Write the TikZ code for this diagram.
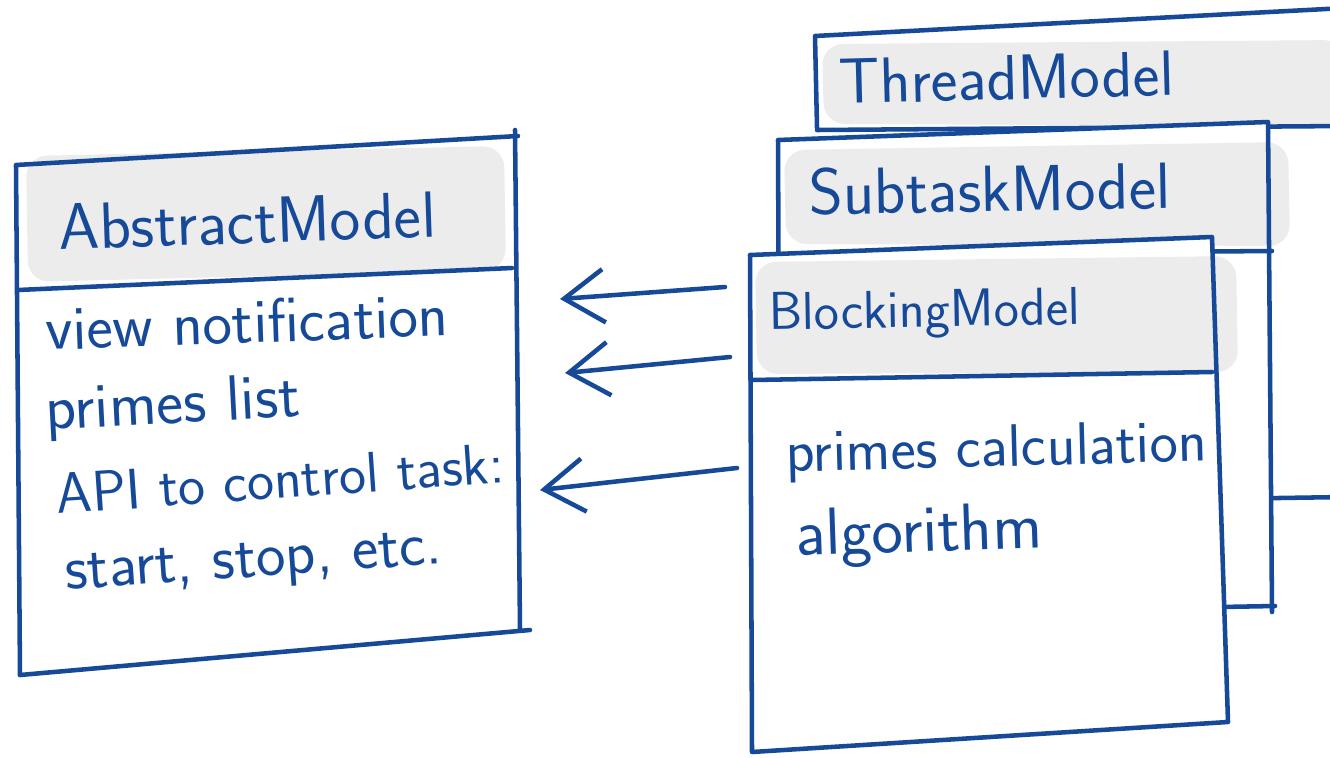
\documentclass[tikz,border=0pt]{standalone}
\usepackage{tikz}
\usetikzlibrary{arrows.meta}

\definecolor{ink}{RGB}{22,74,152}
\definecolor{marker}{RGB}{236,236,236}

\tikzset{
  pen/.style={draw=ink, line width=3.4pt, line cap=round, line join=round},
  hand/.style={text=ink, font=\sffamily\fontsize{#1}{#1}\selectfont, inner sep=0.75pt, anchor=base west},
  hand/.default=44,
  header/.style={fill=marker, rounded corners=16pt},
  card/.style={fill=white},
  back/.style={pen, -{Straight Barb[length=30pt,width=40pt]}}
}

\begin{document}
\begin{tikzpicture}[x=0.75pt,y=0.75pt,yscale=-1,xscale=1]
	\useasboundingbox (0,0) rectangle (1330,757);

	%Shape: ThreadModel card (back)
	\fill [card] (815,36) -- (1345,8) -- (1345,497) -- (817,505) -- cycle;
	\fill [header] (822,44) -- (1345,40) -- (1345,126) -- (824,124) -- cycle;
	\draw [pen] (817,128) -- (815,36) -- (1345,8);
	\draw [pen] (817,130) -- (1345,126);
	\draw [pen] (817,505) -- (1345,497);

	%Shape: SubtaskModel card (middle)
	\fill [card] (778,140) -- (1268,122) -- (1272,612) -- (780,615) -- cycle;
	\fill [header] (784,150) -- (1288,142) -- (1290,246) -- (786,244) -- cycle;
	\draw [pen] (780,615) -- (778,140) -- (1268,122) -- (1272,612);
	\draw [pen] (780,255) -- (1272,251);
	\draw [pen] (780,615) -- (1275,606);

	%Shape: BlockingModel card (front)
	\fill [card] (750,255) -- (1212,237) -- (1228,722) -- (752,752) -- cycle;
	\fill [header] (755,262) -- (1236,256) -- (1238,372) -- (757,374) -- cycle;
	\draw [pen] (752,752) -- (750,255) -- (1212,237) -- (1228,722) -- cycle;
	\draw [pen] (752,380) -- (1212,372);

	%Shape: AbstractModel card
	\fill [header] (26,156) -- (504,146) -- (506,270) -- (28,282) -- cycle;
	\draw [pen] (20,675) -- (16,165) -- (518,136);
	\draw [pen] (515,130) -- (520,630);
	\draw [pen] (20,675) -- (530,630);
	\draw [pen] (18,290) -- (512,268);

	% Text Node
	\draw (58,250) node (abstitle) [hand=49,rotate=2] {AbstractModel};
	% Text Node
	\draw (45,350) node (absview) [hand=47,rotate=2] {view notification};
	% Text Node
	\draw (45,430) node (abslist) [hand=48,rotate=3] {primes list};
	% Text Node
	\draw (56,514) node (absapi) [hand=43,rotate=4] {API to control task:};
	% Text Node
	\draw (65,590) node (absstart) [hand=47,rotate=4] {start, stop, etc.};
	% Text Node
	\draw (838,104) node (threadtitle) [hand=48,rotate=1.5] {ThreadModel};
	% Text Node
	\draw (808,215) node (subtitle) [hand=49,rotate=1] {SubtaskModel};
	% Text Node
	\draw (768,330) node (blocktitle) [hand=40,rotate=1] {BlockingModel};
	% Text Node
	\draw (785,472) node (blockcalc) [hand=45,rotate=1.5] {primes calculation};
	% Text Node
	\draw (795,556) node (blockalgo) [hand=50,rotate=2] {algorithm};

	%Arrows back to AbstractModel
	\coordinate (from1) at (725,287);
	\coordinate (to1) at (560,299);
	\coordinate (from2) at (730,357);
	\coordinate (to2) at (565,373);
	\coordinate (from3) at (737,468);
	\coordinate (to3) at (540,490);
	\draw [back] (from1) -- (to1);
	\draw [back] (from2) -- (to2);
	\draw [back] (from3) -- (to3);

\end{tikzpicture}
\end{document}
